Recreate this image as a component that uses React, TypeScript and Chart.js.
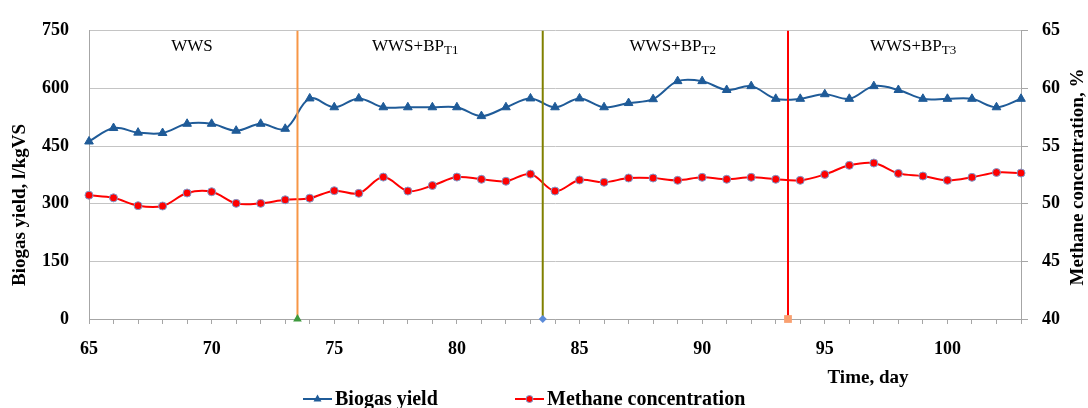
import React, { useEffect, useRef } from 'react';
import { Chart, registerables } from 'chart.js';

Chart.register(...registerables);

const days: number[] = [
  65, 66, 67, 68, 69, 70, 71, 72, 73, 74, 75, 76, 77, 78, 79, 80, 81, 82, 83, 84,
  85, 86, 87, 88, 89, 90, 91, 92, 93, 94, 95, 96, 97, 98, 99, 100, 101, 102, 103,
];

const biogasYield: number[] = [
  462, 497, 485, 484, 508, 508, 490, 508, 495, 574, 551, 574, 551, 551, 551, 551, 528, 551, 574, 551,
  574, 551, 562, 572, 619, 619, 596, 606, 573, 573, 585, 573, 606, 596, 573, 573, 573, 551, 573,
];

const methaneConcentration: number[] = [
  50.74, 50.51, 49.83, 49.8, 50.93, 51.04, 50.03, 50.03, 50.34, 50.48, 51.13, 50.9, 52.31, 51.1, 51.58, 52.31, 52.12, 51.95, 52.57, 51.1,
  52.06, 51.86, 52.23, 52.23, 52.03, 52.29, 52.12, 52.29, 52.12, 52.03, 52.54, 53.33, 53.53, 52.63, 52.4, 52.03, 52.29, 52.71, 52.66,
];

const stageBoundaries: number[] = [73.5, 83.5, 93.5];
const stageMain: string[] = ['WWS', 'WWS+BP', 'WWS+BP', 'WWS+BP'];
const stageSub: string[] = ['', 'T1', 'T2', 'T3'];
const stageLabelDay: number[] = [69.2, 78.3, 88.8, 98.6];

const boundaryLineColors: string[] = ['#F79646', '#808000', '#FF0000'];
const boundaryMarkerColors: string[] = ['#3E9A3E', '#5B8BD9', '#F9A070'];
const boundaryMarkerStyles: string[] = ['triangle', 'rectRot', 'rect'];
const boundaryMarkerSizes: number[] = [5, 4, 5.5];

const xMin = 65;
const xMax = 103;
const yMin = 0;
const yMax = 750;
const yStep = 150;
const y1Min = 40;
const y1Max = 65;
const y1Step = 5;

const BLUE = '#1F5B98';
const RED = '#FF0000';
const SERIF = '"Liberation Serif", "DejaVu Serif", serif';

const overlayPlugin = {
  id: 'overlayText',
  afterDraw(chart: any) {
    const ctx: CanvasRenderingContext2D = chart.ctx;
    const xs = chart.scales.x;
    ctx.save();
    ctx.fillStyle = '#000';
    // stage labels
    for (let i = 0; i < stageMain.length; i++) {
      const cx = xs.getPixelForValue(stageLabelDay[i]);
      ctx.font = `17px ${SERIF}`;
      const mw = ctx.measureText(stageMain[i]).width;
      ctx.font = `13px ${SERIF}`;
      const sw = stageSub[i] ? ctx.measureText(stageSub[i]).width : 0;
      const start = cx - (mw + sw) / 2;
      ctx.textAlign = 'left';
      ctx.textBaseline = 'alphabetic';
      ctx.font = `17px ${SERIF}`;
      ctx.fillText(stageMain[i], start, 51);
      if (stageSub[i]) {
        ctx.font = `13px ${SERIF}`;
        ctx.fillText(stageSub[i], start + mw, 54);
      }
    }
    // axis titles
    ctx.font = `bold 19px ${SERIF}`;
    ctx.textAlign = 'center';
    ctx.textBaseline = 'middle';
    ctx.save();
    ctx.translate(20, 205);
    ctx.rotate(-Math.PI / 2);
    ctx.fillText('Biogas yield, l/kgVS', 0, 0);
    ctx.restore();
    ctx.save();
    ctx.translate(1078, 177);
    ctx.rotate(-Math.PI / 2);
    ctx.fillText('Methane concentration, %', 0, 0);
    ctx.restore();
    ctx.textBaseline = 'alphabetic';
    ctx.fillText('Time, day', 868, 383);

    // legend
    ctx.font = `bold 20px ${SERIF}`;
    ctx.textAlign = 'left';
    const ly = 399;
    // biogas
    ctx.strokeStyle = BLUE;
    ctx.lineWidth = 2;
    ctx.beginPath();
    ctx.moveTo(303, ly);
    ctx.lineTo(332, ly);
    ctx.stroke();
    ctx.fillStyle = BLUE;
    ctx.beginPath();
    ctx.moveTo(317.5, ly - 4.5);
    ctx.lineTo(321.5, ly + 2.5);
    ctx.lineTo(313.5, ly + 2.5);
    ctx.closePath();
    ctx.fill();
    ctx.fillStyle = '#000';
    ctx.fillText('Biogas yield', 335, 405);
    // methane
    ctx.strokeStyle = RED;
    ctx.beginPath();
    ctx.moveTo(515, ly);
    ctx.lineTo(544, ly);
    ctx.stroke();
    ctx.fillStyle = RED;
    ctx.strokeStyle = '#7C9CCF';
    ctx.lineWidth = 1;
    ctx.beginPath();
    ctx.arc(529.5, ly, 3.5, 0, Math.PI * 2);
    ctx.fill();
    ctx.stroke();
    ctx.fillStyle = '#000';
    ctx.fillText('Methane concentration', 547, 405);
    ctx.restore();
  },
};

export default function App() {
  const canvasRef = useRef<HTMLCanvasElement | null>(null);

  useEffect(() => {
    const canvas = canvasRef.current;
    if (!canvas) return;
    Chart.defaults.font.family = SERIF;

    const boundaryDatasets = stageBoundaries.map((d, i) => ({
      type: 'line' as const,
      label: `boundary${i}`,
      data: [
        { x: d, y: yMin },
        { x: d, y: yMax },
      ],
      yAxisID: 'y',
      borderColor: boundaryLineColors[i],
      borderWidth: 2,
      tension: 0,
      clip: false,
      pointRadius: [boundaryMarkerSizes[i], 0],
      pointStyle: boundaryMarkerStyles[i] as any,
      pointBackgroundColor: boundaryMarkerColors[i],
      pointBorderColor: boundaryMarkerColors[i],
      pointBorderWidth: 0,
      order: 0,
    }));

    const chart = new Chart(canvas, {
      type: 'line',
      data: {
        datasets: [
          {
            label: 'Biogas yield',
            data: days.map((d, i) => ({ x: d, y: biogasYield[i] })),
            yAxisID: 'y',
            borderColor: BLUE,
            borderWidth: 2,
            tension: 0.35,
            clip: false,
            pointStyle: 'triangle',
            pointRadius: 5,
            pointBackgroundColor: BLUE,
            pointBorderColor: BLUE,
            pointBorderWidth: 1,
            order: 2,
          },
          {
            label: 'Methane concentration',
            data: days.map((d, i) => ({ x: d, y: methaneConcentration[i] })),
            yAxisID: 'y1',
            borderColor: RED,
            borderWidth: 2,
            tension: 0.35,
            clip: false,
            pointStyle: 'circle',
            pointRadius: 4,
            pointBackgroundColor: RED,
            pointBorderColor: '#7C9CCF',
            pointBorderWidth: 1,
            order: 1,
          },
          ...boundaryDatasets,
        ] as any,
      },
      options: {
        animation: false,
        responsive: false,
        devicePixelRatio: 1,
        layout: { padding: { top: 24, left: 0, right: 0, bottom: 0 } },
        plugins: {
          legend: { display: false },
          tooltip: { enabled: false },
        },
        scales: {
          x: {
            type: 'linear',
            position: 'bottom',
            min: xMin,
            max: xMax,
            afterFit: (s: any) => {
              s.height = 89;
            },
            ticks: {
              stepSize: 1,
              autoSkip: false,
              maxRotation: 0,
              minRotation: 0,
              padding: 15,
              color: '#000',
              font: { family: SERIF, size: 18, weight: 'bold' },
              callback: (v: any) => (Number(v) % 5 === 0 ? String(v) : ''),
            },
            grid: {
              drawOnChartArea: false,
              drawTicks: true,
              tickLength: 5,
              color: '#A6A6A6',
            },
            border: { color: '#A6A6A6', width: 1 },
          },
          y: {
            type: 'linear',
            position: 'left',
            min: yMin,
            max: yMax,
            afterFit: (s: any) => {
              s.width = 89;
            },
            ticks: {
              stepSize: yStep,
              padding: 20,
              color: '#000',
              font: { family: SERIF, size: 18, weight: 'bold' },
            },
            grid: { color: '#C4C4C4', drawTicks: false, lineWidth: 1 },
            border: { color: '#A6A6A6', width: 1 },
          },
          y1: {
            type: 'linear',
            position: 'right',
            min: y1Min,
            max: y1Max,
            afterFit: (s: any) => {
              s.width = 67;
            },
            ticks: {
              stepSize: y1Step,
              padding: 14,
              color: '#000',
              font: { family: SERIF, size: 18, weight: 'bold' },
            },
            grid: { drawOnChartArea: false, drawTicks: true, tickLength: 7, color: '#A6A6A6' },
            border: { color: '#A6A6A6', width: 1 },
          },
        },
      } as any,
      plugins: [overlayPlugin],
    });

    return () => {
      chart.destroy();
    };
  }, []);

  return (
    <div style={{ position: 'fixed', left: 0, top: 0, width: 1088, height: 408, background: '#fff' }}>
      <canvas ref={canvasRef} width={1088} height={408} style={{ width: 1088, height: 408, display: 'block' }} />
    </div>
  );
}
